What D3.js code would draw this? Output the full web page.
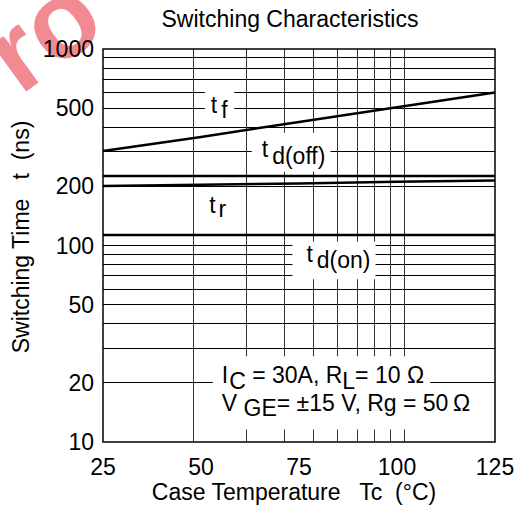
<!DOCTYPE html>
<html>
<head>
<meta charset="utf-8">
<script src="https://cdn.jsdelivr.net/npm/d3@7"></script>
<style>
  html, body { margin: 0; padding: 0; background: #fff; }
  svg text { font-family: "Liberation Sans", Arial, sans-serif; fill: #000; white-space: pre; }
</style>
</head>
<body>
<div id="chart"></div>
<script>
// Data
const temps = [25, 50, 75, 100, 125];
const tFall = [303, 357, 425, 505, 600];
const tdOff = [226, 226, 226, 226, 226];
const tRise = [201, 204, 207, 211, 214];
const tdOn = [113, 113, 113, 113, 113];

const xTicks = [25, 50, 75, 100, 125];
const yTicks = [10, 20, 50, 100, 200, 500, 1000];
const yGrid = [20, 30, 40, 50, 60, 70, 80, 90, 100, 200, 300, 400, 500, 600, 700, 800, 900];
// the vertical rulings follow a log decade, not the temperature axis
const xGridSteps = [2, 3, 4, 5, 6, 7, 8, 9, 10];

const width = 521;
const height = 508;
const margin = {top: 49, right: 26, bottom: 66, left: 103};
const fontSize = 23;

const svg = d3.select("#chart")
    .append("svg")
    .attr("width", width)
    .attr("height", height);

// watermark
svg.append("text")
    .attr("transform", "translate(20,96) rotate(-36)")
    .attr("font-size", 110)
    .attr("font-weight", "bold")
    .style("fill", "#f28a92")
    .text("ro");

const xScale = d3.scaleLinear()
    .domain([25, 125])
    .range([margin.left, width - margin.right]);
const yScale = d3.scaleLog()
    .domain([10, 1000])
    .range([height - margin.bottom, margin.top]);
const gridScale = d3.scaleLog()
    .domain([1, 10])
    .range([xScale(25), xScale(101.8)]);

const grid = svg.append("g")
    .attr("stroke", "#000")
    .attr("stroke-width", 1)
    .attr("shape-rendering", "crispEdges");
grid.selectAll(".hg")
    .data(yGrid)
    .join("line")
    .attr("x1", xScale(25))
    .attr("x2", xScale(125))
    .attr("y1", d => yScale(d))
    .attr("y2", d => yScale(d));
grid.selectAll(".vg")
    .data(xGridSteps)
    .join("line")
    .attr("x1", d => gridScale(d))
    .attr("x2", d => gridScale(d))
    .attr("y1", yScale(1000))
    .attr("y2", yScale(10))
    .attr("stroke", "#333");

// labels (white boxes knock out the grid behind them)
const boxLayer = svg.append("g");
const labelLayer = svg.append("g").attr("font-size", fontSize);

const addLabel = function(temp, val, parts, pad) {
    const t = labelLayer.append("text")
        .attr("x", xScale(temp))
        .attr("y", yScale(val));
    let shift = 0;
    for (const p of parts) {
        const dy = (p.sub || 0) - shift;
        shift = p.sub || 0;
        t.append("tspan")
            .attr("dx", p.dx || 0)
            .attr("dy", dy)
            .text(p.s);
    }
    const bb = t.node().getBBox();
    boxLayer.append("rect")
        .attr("x", bb.x - pad[3])
        .attr("y", bb.y - pad[0])
        .attr("width", bb.width + pad[1] + pad[3])
        .attr("height", bb.height + pad[0] + pad[2])
        .attr("fill", "#fff");
};

addLabel(52.5, 471, [{s: "t"}, {s: "f", sub: 5, dx: 4}], [3, 6, 2, 6]);
addLabel(65.5, 283, [{s: "t"}, {s: "d(off)", sub: 7, dx: 4}], [3, 5, 3, 10]);
addLabel(52.1, 146, [{s: "t"}, {s: "r", sub: 4, dx: 3}], [2, 4, 2, 4]);
addLabel(76.9, 82.7, [{s: "t"}, {s: "d(on)", sub: 6.5, dx: 4}], [-1, 5, 6, 14]);
addLabel(55.3, 19.9, [{s: "I"}, {s: "C", sub: 6, dx: 1}, {s: " = 30A, R"}, {s: "L", sub: 6},
    {s: "= 10 \u03A9"}], [6, 6, 0, 9]);
addLabel(55.3, 14.3, [{s: "V "}, {s: "GE", sub: 5}, {s: "= \u00B115 V, Rg = 50\u2009\u03A9"}], [0, 6, 8, 9]);

// curves
const line = d3.line()
    .x((d, i) => xScale(temps[i]))
    .y(d => yScale(d));
svg.append("g")
    .selectAll("path")
    .data([tFall, tdOff, tRise, tdOn])
    .join("path")
    .attr("fill", "none")
    .attr("stroke", "#000")
    .attr("stroke-width", 2.5)
    .attr("d", line);

// frame
svg.append("rect")
    .attr("x", xScale(25))
    .attr("y", yScale(1000))
    .attr("width", xScale(125) - xScale(25))
    .attr("height", yScale(10) - yScale(1000))
    .attr("fill", "none")
    .attr("stroke", "#000")
    .attr("stroke-width", 1.5);

// axes labels
svg.append("g")
    .attr("font-size", fontSize)
    .selectAll("text")
    .data(yTicks)
    .join("text")
    .attr("x", margin.left - 9)
    .attr("y", d => yScale(d))
    .attr("dy", "0.35em")
    .attr("text-anchor", "end")
    .text(d => d);
svg.append("g")
    .attr("font-size", fontSize)
    .selectAll("text")
    .data(xTicks)
    .join("text")
    .attr("x", d => xScale(d))
    .attr("y", 475)
    .attr("text-anchor", "middle")
    .text(d => d);

svg.append("text")
    .attr("x", 290)
    .attr("y", 27)
    .attr("font-size", fontSize)
    .attr("text-anchor", "middle")
    .text("Switching Characteristics");
svg.append("text")
    .attr("x", 294)
    .attr("y", 500)
    .attr("font-size", fontSize)
    .attr("text-anchor", "middle")
    .text("Case Temperature   Tc  (\u00B0C)");
svg.append("text")
    .attr("transform", "translate(29,237) rotate(-90)")
    .attr("font-size", fontSize)
    .attr("text-anchor", "middle")
    .text("Switching Time   t  (ns)");
</script>
</body>
</html>
